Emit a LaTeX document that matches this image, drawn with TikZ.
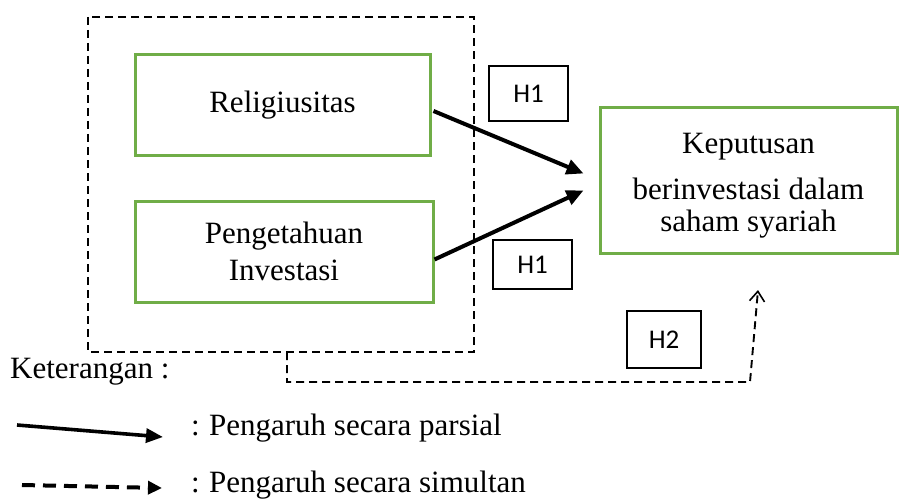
\documentclass[tikz,border=0pt]{standalone}
\usepackage{fontspec}
\setmainfont{Liberation Serif}
\newfontfamily\calib{Carlito}
\usetikzlibrary{arrows.meta}
\definecolor{boxgreen}{HTML}{70AD47}
\tikzset{
  gbox/.style={draw=boxgreen, line width=3pt, minimum width=#1, inner sep=0pt, align=center, font=\fontsize{31}{37}\selectfont},
  hbox/.style={draw=black, line width=1.6pt, inner sep=0pt, font=\calib\fontsize{27}{30}\selectfont},
  solidarr/.style={line width=4pt, -{Triangle[length=17pt,width=15pt]}},
  dasharr/.style={line width=1.9pt, dash pattern=on 8pt off 5pt},
  legtext/.style={anchor=base west, inner sep=0pt, font=\fontsize{31}{37}\selectfont}
}
\begin{document}
\begin{tikzpicture}[x=1pt,y=-1pt]
\useasboundingbox (0,0) rectangle (899,500);
% dashed group box
\draw[dasharr] (88,17) rectangle (474,352);
% nodes
\node[gbox=295pt, minimum height=100pt] (rel) at (282.5,105) {Religiusitas};
\node[gbox=298pt, minimum height=101pt] (peng) at (284,251.5) {Pengetahuan\\Investasi};
\node[gbox=297pt, minimum height=145pt] (kep) at (748.5,180.5) {};
\node[align=center, inner sep=0pt, font=\fontsize{31}{32}\selectfont] (kept) at (748.5,186) {Keputusan\\[14pt]berinvestasi dalam\\saham syariah};
\node[hbox, minimum width=79pt, minimum height=55pt] (h1a) at (528.5,93.5) {H1};
\node[hbox, minimum width=79pt, minimum height=49pt] (h1b) at (532.5,264.5) {H1};
\node[hbox, minimum width=74pt, minimum height=57pt] (h2) at (664,339.5) {H2};
% partial arrows
\draw[solidarr] ([shift={(2,6)}]rel.east) -- ([shift={(-15,-7)}]kep.west);
\draw[solidarr] ([shift={(0,8)}]peng.east) -- ([shift={(-15,10)}]kep.west);
% simultaneous arrow
\coordinate (gstart) at (287,352);
\coordinate (gend) at (758,290);
\draw[dasharr, -{Straight Barb[length=10pt,width=15pt,line width=1.6pt]}] (gstart) -- (287,382) -- (750,382) -- (gend);
% legend
\node[legtext] (ket) at (10,378) {Keterangan :};
\coordinate (la1) at (17,425);
\coordinate (la2) at (163,437);
\draw[line width=3.6pt, -{Triangle[length=17pt,width=14pt]}] (la1) -- (la2);
\coordinate (lb1) at (22,485);
\coordinate (lb2) at (162,488);
\draw[line width=4pt, dash pattern=on 13pt off 8pt, -{Triangle[length=14pt,width=13pt]}] (lb1) -- (lb2);
\node[legtext] (lt1) at (191,435) {:\hspace{-1pt} Pengaruh secara parsial};
\node[legtext] (lt2) at (191,492) {:\hspace{-1pt} Pengaruh secara simultan};
\end{tikzpicture}
\end{document}
